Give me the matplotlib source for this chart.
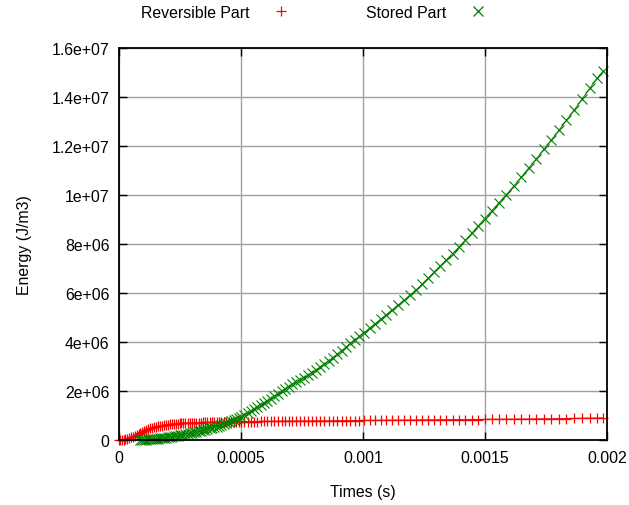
import matplotlib
matplotlib.use("Agg")
import matplotlib.pyplot as plt
from matplotlib.lines import Line2D
import numpy as np

plt.rcParams['font.family'] = ['Liberation Sans', 'DejaVu Sans']
plt.rcParams['font.size'] = 11.4

# time steps (microseconds)
times_us = [0, 6, 12, 19, 26, 33, 40, 48, 56, 64, 72, 80, 88, 96, 104, 112, 120, 128,
            136, 144, 152, 160, 168, 176, 184, 192, 200, 208, 216, 224, 232, 240, 248,
            256, 264, 272, 281, 290, 299, 308, 317, 326, 335, 344, 353, 362, 371, 380,
            390, 400, 410, 420, 430, 440, 450, 460, 470, 480, 491, 502, 514, 527, 540,
            553, 566, 580, 594, 608, 622, 636, 651, 666, 681, 696, 711, 727, 743, 759,
            775, 791, 808, 825, 842, 859, 876, 894, 912, 930, 948, 966, 985, 1004, 1027,
            1050, 1073, 1096, 1120, 1144, 1168, 1192, 1216, 1241, 1266, 1291, 1316, 1341,
            1367, 1393, 1419, 1445, 1471, 1498, 1528, 1558, 1588, 1618, 1648, 1679, 1710,
            1741, 1772, 1803, 1834, 1865, 1897, 1929, 1961, 1984]

# reversible part (MJ/m3)
reversible = [0.0, 0.005, 0.01, 0.02, 0.04, 0.06, 0.08, 0.11, 0.14, 0.18, 0.22, 0.26,
              0.30, 0.34, 0.38, 0.41, 0.44, 0.47, 0.50, 0.52, 0.54, 0.56, 0.58, 0.59,
              0.61, 0.62, 0.63, 0.64, 0.65, 0.66, 0.665, 0.67, 0.68, 0.685, 0.69, 0.69,
              0.695, 0.70, 0.70, 0.705, 0.71, 0.71, 0.71, 0.715, 0.715, 0.72, 0.72, 0.72,
              0.725, 0.73, 0.73, 0.735, 0.735, 0.74, 0.74, 0.74, 0.745, 0.745, 0.75, 0.75,
              0.75, 0.75, 0.755, 0.755, 0.755, 0.76, 0.76, 0.76, 0.76, 0.765, 0.765, 0.765,
              0.77, 0.77, 0.77, 0.77, 0.775, 0.775, 0.775, 0.78, 0.78, 0.78, 0.78, 0.785,
              0.785, 0.785, 0.79, 0.79, 0.79, 0.795, 0.795, 0.80, 0.80, 0.80, 0.805, 0.805,
              0.81, 0.81, 0.81, 0.815, 0.815, 0.82, 0.82, 0.82, 0.825, 0.825, 0.83, 0.83,
              0.83, 0.835, 0.835, 0.84, 0.845, 0.845, 0.85, 0.85, 0.855, 0.855, 0.86,
              0.865, 0.865, 0.87, 0.875, 0.88, 0.885, 0.89, 0.895, 0.90]

# stored part (MJ/m3), no output before ~88 us
stored = [np.nan] * 12 + [
    0.0, 0.005, 0.01, 0.02, 0.025, 0.03, 0.04, 0.045, 0.05, 0.06, 0.07, 0.08, 0.09,
    0.10, 0.12, 0.13, 0.14, 0.155, 0.17, 0.18, 0.195, 0.21, 0.22, 0.235, 0.25, 0.27,
    0.29, 0.31, 0.33, 0.35, 0.37, 0.395, 0.42, 0.44, 0.47, 0.49, 0.52, 0.55, 0.58,
    0.62, 0.65, 0.69, 0.72, 0.76, 0.80, 0.84, 0.89, 0.94, 1.01, 1.09, 1.17, 1.25,
    1.34, 1.42, 1.51, 1.60, 1.69, 1.79, 1.88, 1.98, 2.08, 2.17, 2.27, 2.36, 2.46,
    2.55, 2.65, 2.75, 2.86, 2.98, 3.10, 3.23, 3.36, 3.50, 3.64, 3.79, 3.94, 4.08,
    4.23, 4.38, 4.56, 4.75, 4.93, 5.12, 5.31, 5.51, 5.70, 5.90, 6.11, 6.35, 6.60,
    6.85, 7.10, 7.35, 7.61, 7.87, 8.15, 8.43, 8.72, 9.03, 9.36, 9.69, 10.02, 10.36,
    10.72, 11.09, 11.47, 11.86, 12.25, 12.64, 13.05, 13.46, 13.90, 14.35, 14.78, 15.05]

xticks = [0, 0.0005, 0.001, 0.0015, 0.002]
xticklabels = ["0", "0.0005", "0.001", "0.0015", "0.002"]
yticks = [0, 2e6, 4e6, 6e6, 8e6, 1e7, 1.2e7, 1.4e7, 1.6e7]
yticklabels = ["0", "2e+06", "4e+06", "6e+06", "8e+06", "1e+07", "1.2e+07", "1.4e+07", "1.6e+07"]

t = np.array(times_us) * 1e-6
rev = np.array(reversible) * 1e6
sto = np.array(stored) * 1e6

fig = plt.figure(figsize=(6.29, 5.06), dpi=100)
ax = fig.add_axes([119/629, 65/506, 488/629, 392/506])

ax.plot(t, rev, color="#ff0000", lw=0.8, marker="+", ms=6.5, mew=0.9, clip_on=False)
ax.plot(t, sto, color="#008000", lw=0.7, marker="x", ms=6.5, mew=0.8, clip_on=False)

ax.set_xlim(0, 0.002)
ax.set_ylim(0, 1.6e7)
ax.set_xticks(xticks)
ax.set_xticklabels(xticklabels)
ax.set_yticks(yticks)
ax.set_yticklabels(yticklabels)
ax.tick_params(which="major", direction="in", length=6, width=1,
               top=True, right=True, pad=7)
ax.grid(color="#a0a0a0", lw=1)
ax.set_axisbelow(True)
for s in ax.spines.values():
    s.set_linewidth(1.3)

ax.set_xlabel("Times (s)", labelpad=14)
ax.set_ylabel("Energy (J/m3)", labelpad=14)

handles = [Line2D([], [], ls="none", marker="+", color="#ff0000", ms=7.5, mew=0.9),
           Line2D([], [], ls="none", marker="x", color="#008000", ms=7.5, mew=0.9)]
fig.legend(handles, ["Reversible Part", "Stored Part"], ncol=2, markerfirst=False,
           loc="center", bbox_to_anchor=(0.506, 0.974), frameon=False,
           handlelength=2.2, handletextpad=0.9, columnspacing=4.3)

fig.savefig("out.png", dpi=100)
